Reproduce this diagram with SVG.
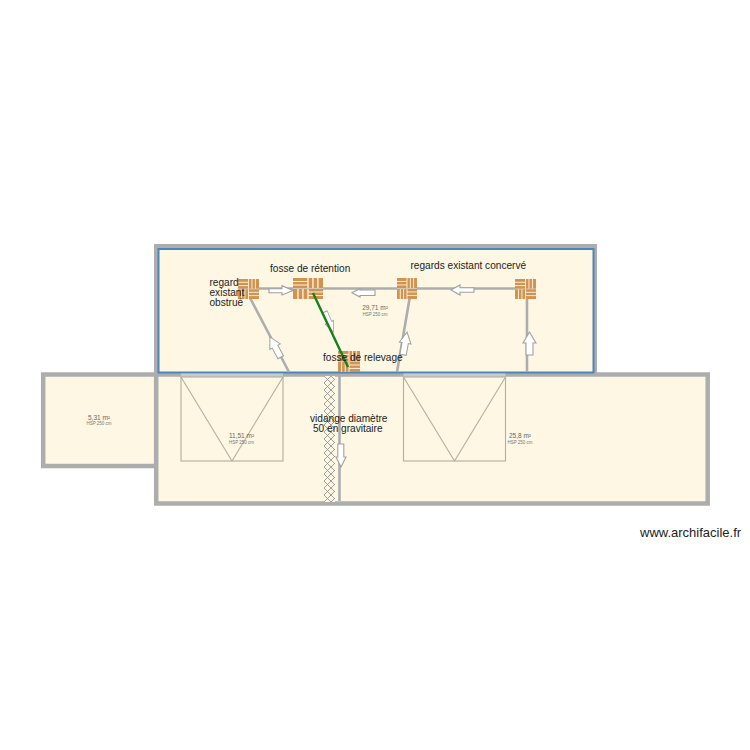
<svg xmlns="http://www.w3.org/2000/svg" width="750" height="750" viewBox="0 0 750 750">
<style>
.room{fill:#fdf7e4;stroke:#adadad;stroke-width:4.5}
.door{fill:none;stroke:#b5ada0;stroke-width:1.1}
.sill{fill:#c3cbcf}
.pipe{fill:none;stroke:#adadad;stroke-width:2.6}
.arrow{fill:#fff;stroke:#a0a0a0;stroke-width:1.100}
.label{font-family:"Liberation Sans",Arial,sans-serif;font-size:10.100px;fill:#222}
.area{font-family:"Liberation Sans",Arial,sans-serif;font-size:6.5px;fill:#666;text-anchor:middle}
.hsp{font-family:"Liberation Sans",Arial,sans-serif;font-size:4.5px;fill:#777;text-anchor:middle}
.tb{fill:#d29250}
.tl{stroke:#fdf3dc;stroke-width:0.9;fill:none}
.tc{stroke:#cfc8b8;stroke-width:1;fill:none}
</style>
<defs>
<symbol id="tile" viewBox="0 0 20 20" preserveAspectRatio="none">
<rect class="tb" width="20" height="20"/>
<path class="tl" d="M0 3.300H10M0 6.600H10M10 0V10M13.300 0V10M16.600 0V10M10 10V20M3.300 10V20M6.600 10V20M10 13.300H20M10 16.600H20"/>
<path class="tc" d="M0 10H20"/>
</symbol>
<pattern id="hatch" width="7" height="7" patternUnits="userSpaceOnUse" x="324" y="376">
<rect width="7" height="7" fill="#fdf7e4"/>
<path d="M0 0L7 7M7 0L0 7" stroke="#8a8a8a" stroke-width="0.8"/>
</pattern>
<path id="up" d="M-3.500 11V-1H-6.500L0 -12L6.500 -1H3.500V11Z"/>
</defs>
<rect width="750" height="750" fill="#fff"/>
<g id="room-left"><rect class="room" x="43.200" y="374.500" width="113" height="91.500"/>
<text class="area" x="99" y="420">5,31 m²</text><text class="hsp" x="99" y="425">HSP 250 cm</text></g>
<g id="room-bottom"><rect class="room" x="156.200" y="374.500" width="551.500" height="129"/></g>
<g id="room-top"><rect x="156" y="246" width="439" height="128" fill="#fdf7e4" stroke="#adadad" stroke-width="4"/>
<rect x="158.500" y="249" width="435" height="123.500" fill="#fdf7e4" stroke="#4a86b8" stroke-width="2"/>
<text class="area" x="375" y="309.500">29,71 m²</text><text class="hsp" x="375" y="315.500">HSP 250 cm</text></g>
<g id="door-1"><rect class="sill" x="181" y="373.500" width="102" height="3.500"/><rect class="door" x="181" y="377" width="102" height="84"/><path class="door" d="M181 377L232 461L283 377"/>
<text class="area" x="241.500" y="438">11,51 m²</text><text class="hsp" x="241.500" y="444">HSP 250 cm</text></g>
<g id="door-2"><rect class="sill" x="403.500" y="373.500" width="102" height="3.500"/><rect class="door" x="403.500" y="377" width="102" height="84"/><path class="door" d="M403.500 377L454.500 461L505.500 377"/>
<text class="area" x="520" y="438">25,8 m²</text><text class="hsp" x="520" y="444">HSP 250 cm</text></g>
<g id="drain"><rect x="324" y="376" width="11" height="126" fill="url(#hatch)"/></g>
<g id="connectors">
<path class="pipe" d="M250 288.500H527V372M410 296L397 372M249 296L289 372M339.500 376V501"/>
</g>
<g id="tile-1"><use href="#tile" x="238" y="279" width="21" height="20"/></g>
<g id="tile-2"><use href="#tile" x="293" y="278" width="30" height="21"/></g>
<g id="tile-3"><use href="#tile" x="397" y="278" width="20" height="21"/></g>
<g id="tile-4"><use href="#tile" x="515" y="279" width="21" height="20"/></g>
<g id="tile-5"><use href="#tile" x="338" y="351" width="22" height="21"/></g>
<g id="arrows">
<use href="#up" class="arrow" transform="translate(329,321.500) rotate(157) scale(0.7,0.95)"/>
<path d="M313 293L348 367" fill="none" stroke="#14821e" stroke-width="2.400"/>
<path class="arrow" d="M269 288.700H282V285.700L293 290.500L282 295V292.700H269Z"/>
<path class="arrow" d="M375 290H360V288.700L352 292.800L360 297V295.500H375Z"/>
<path class="arrow" d="M474 287.700H460V285L451 290L460 295V292.300H474Z"/>
<use href="#up" class="arrow" transform="translate(529.500,344)"/>
<use href="#up" class="arrow" transform="translate(405,344) rotate(10) scale(0.9,1)"/>
<use href="#up" class="arrow" transform="translate(275.500,347.500) rotate(-28) scale(0.9,1)"/>
<path class="arrow" d="M337.800 444H343.800V457H346L341 467L336 457H337.800Z"/>
</g>
<g id="labels">
<text class="label" x="270" y="272">fosse de rétention</text>
<text class="label" x="410.500" y="269">regards existant concervé</text>
<text class="label" x="209.500" y="286">regard</text>
<text class="label" x="209.500" y="296">existant</text>
<text class="label" x="209.500" y="306">obstrué</text>
<text class="label" x="323" y="361">fosse de relevage</text>
<text class="label" x="310" y="422">vidange diamètre</text>
<text class="label" x="313" y="432">50 en gravitaire</text>
<text x="640" y="537" font-family="'Liberation Sans',Arial,sans-serif" font-size="13" fill="#222">www.archifacile.fr</text>
</g>
</svg>
